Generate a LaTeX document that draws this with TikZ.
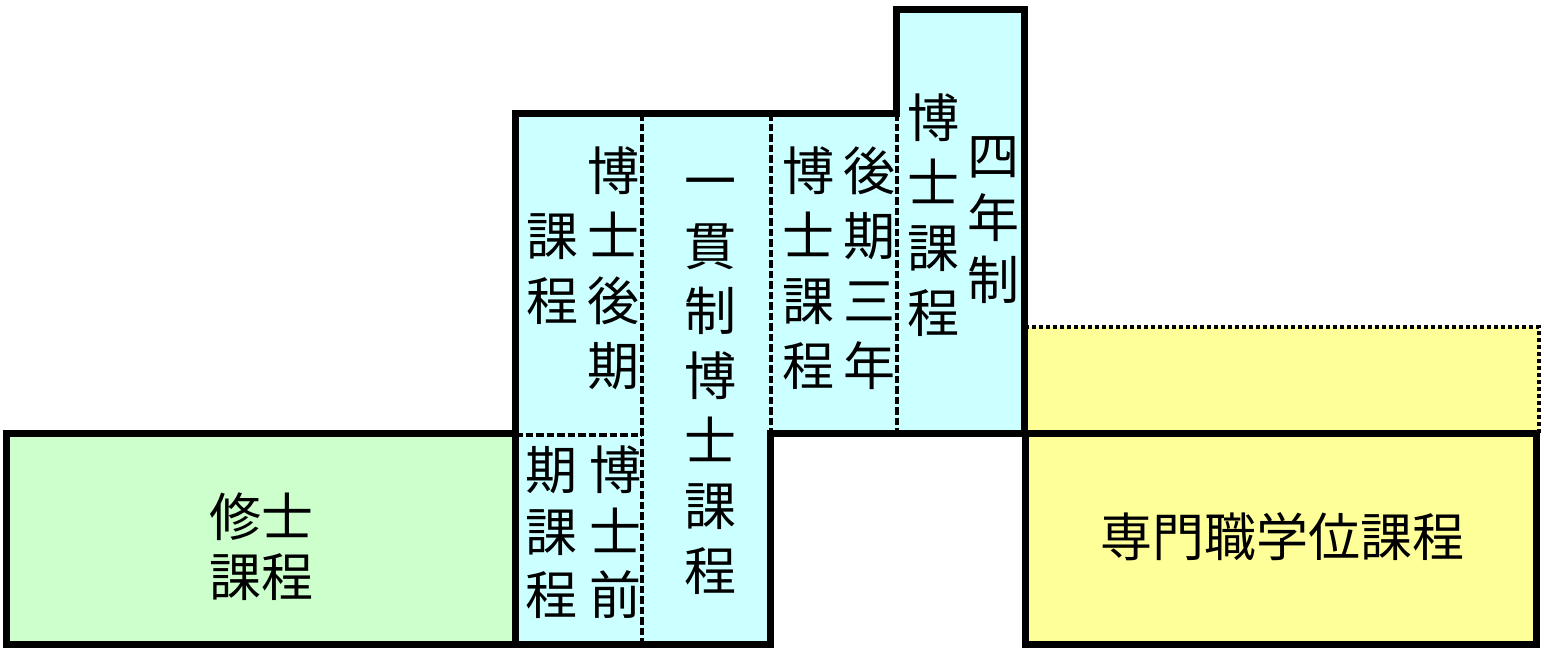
\documentclass[tikz,border=0pt]{standalone}
\usepackage{fontspec}
\newfontfamily\jp{Noto Sans CJK JP}
\usepackage{tikz}

\definecolor{shugreen}{RGB}{204,255,204}
\definecolor{hakblue}{RGB}{204,255,255}
\definecolor{senyellow}{RGB}{255,255,153}
\newcommand\colstrut{\rule{0pt}{45pt}}

\begin{document}
\begin{tikzpicture}[x=1pt,y=-1pt,
                    main box/.style={draw,line width=7pt,miter limit=10},
                    sep line/.style={draw,line width=3.5pt,dash pattern=on 7.5pt off 3pt},
                    dot line/.style={draw,line width=4pt,dash pattern=on 4pt off 3pt},
                    main text/.style={inner sep=0pt,align=center,font=\jp\fontsize{52}{65}\selectfont},
                    col text/.style={main text,anchor=north}]
  \useasboundingbox (0,0) rectangle (1544,648);
  %master%
  \path[main box,fill=shugreen] (6,433) rectangle (515,644);
  %professional%
  \fill[senyellow] (1025,327) rectangle (1539,433);
  \path[dot line] (1025,327) -- (1539,327) -- (1539,433);
  \path[main box,fill=senyellow] (1025,433) rectangle (1536,644);
  %doctoral%
  \path[main box,fill=hakblue] (515,644) -- (515,113) -- (896,113) -- (896,9)
    -- (1024,9) -- (1024,433) -- (770,433) -- (770,644) -- cycle;
  \path[sep line] (642,113) -- (642,644);
  \path[sep line] (771,113) -- (771,433);
  \path[sep line] (897,113) -- (897,433);
  \path[sep line] (515,435) -- (642,435);

  \node[main text,font=\jp\fontsize{52}{60}\selectfont] (1) at (261,547) {修士\\課程};
  \node[main text] (2) at (1282,537) {専門職学位課程};

  \node[col text] (3) at (613,145) {\colstrut 博\\士\\後\\期};
  \node[col text] (4) at (552,210) {\colstrut 課\\程};
  \node[col text,font=\jp\fontsize{52}{62.5}\selectfont] (5) at (615,444) {\colstrut 博\\士\\前};
  \node[col text,font=\jp\fontsize{52}{62.5}\selectfont] (6) at (551,444) {\colstrut 期\\課\\程};
  \node[col text] (7) at (710,155) {\colstrut 一\\貫\\制\\博\\士\\課\\程};
  \node[col text] (8) at (808,145) {\colstrut 博\\士\\課\\程};
  \node[col text] (9) at (869,145) {\colstrut 後\\期\\三\\年};
  \node[col text] (10) at (933,92) {\colstrut 博\\士\\課\\程};
  \node[col text,font=\jp\fontsize{52}{62}\selectfont] (11) at (993,130) {\colstrut 四\\年\\制};
\end{tikzpicture}
\end{document}
